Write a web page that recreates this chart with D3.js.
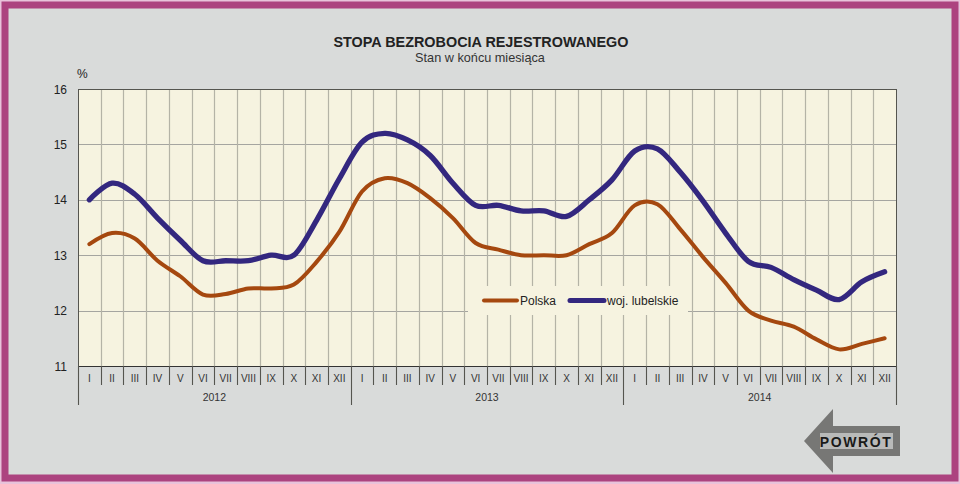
<!DOCTYPE html>
<html>
<head>
  <meta charset="utf-8">
  <title>Stopa bezrobocia rejestrowanego</title>
  <style>
    html, body { margin: 0; padding: 0; background: #e8c3da; }
    svg { display: block; font-family: "Liberation Sans", Arial, sans-serif; }
  </style>
</head>
<body>
  <svg width="960" height="484"></svg>

  <script src="https://d3js.org/d3.v7.min.js"></script>
  <script>

  var months = ["I","II","III","IV","V","VI","VII","VIII","IX","X","XI","XII"];
  var years = ["2012","2013","2014"];
  var yTicks = [11,12,13,14,15,16];

  var polska = [13.2,13.4,13.3,12.9,12.62,12.29,12.3,12.4,12.4,12.47,12.88,13.42,
                14.15,14.39,14.3,14.03,13.67,13.22,13.1,13.0,13.0,13.0,13.2,13.4,
                13.9,13.92,13.47,12.97,12.5,12.0,11.82,11.71,11.48,11.3,11.4,11.5];
  var lubelskie = [14.0,14.3,14.1,13.67,13.27,12.9,12.9,12.9,13.0,13.0,13.63,14.38,
                   15.04,15.2,15.08,14.8,14.3,13.9,13.9,13.8,13.8,13.7,14.0,14.36,
                   14.88,14.92,14.5,13.98,13.4,12.89,12.78,12.56,12.37,12.2,12.52,12.7];

  var svg = d3.select("svg"),
      plotLeft = 78, plotRight = 896, plotTop = 89, plotBottom = 366;

  // frame
  svg.append("rect").attr("x", 5).attr("y", 5).attr("width", 950).attr("height", 473)
      .attr("fill", "#d9dbda").attr("stroke", "#ac437f").attr("stroke-width", 7);

  var labels = [];
  years.forEach(function(yr) {
    months.forEach(function(m) { labels.push(yr + "-" + m); });
  });

  var x = d3.scaleBand().domain(labels).range([plotLeft, plotRight]);
  var y = d3.scaleLinear().domain([11, 16]).range([plotBottom, plotTop]);

  svg.append("rect").attr("x", plotLeft).attr("y", plotTop)
      .attr("width", plotRight - plotLeft).attr("height", plotBottom - plotTop)
      .attr("fill", "#f6f3e0");

  // grid
  svg.selectAll(".hgrid").data(yTicks.slice(1, -1)).enter().append("line")
      .attr("x1", plotLeft).attr("x2", plotRight)
      .attr("y1", function(d) { return Math.round(y(d)) + .5; })
      .attr("y2", function(d) { return Math.round(y(d)) + .5; })
      .attr("stroke", "#a5a5a0");

  svg.selectAll(".vgrid").data(labels.slice(1)).enter().append("line")
      .attr("x1", function(d) { return Math.round(x(d)) + .5; })
      .attr("x2", function(d) { return Math.round(x(d)) + .5; })
      .attr("y1", plotTop).attr("y2", plotBottom)
      .attr("stroke", "#b4b3a6").attr("stroke-width", 1.2);

  // legend sits on a patch of plot background
  svg.append("rect").attr("x", 468).attr("y", 286).attr("width", 220).attr("height", 29)
      .attr("fill", "#f6f3e0");

  var line = d3.line()
      .x(function(d, i) { return x(labels[i]) + x.bandwidth() / 2; })
      .y(function(d) { return y(d); })
      .curve(d3.curveCardinal.tension(0));

  svg.append("path").datum(polska).attr("d", line)
      .attr("fill", "none").attr("stroke", "#a5480f").attr("stroke-width", 4)
      .attr("stroke-linecap", "round");
  svg.append("path").datum(lubelskie).attr("d", line)
      .attr("fill", "none").attr("stroke", "#33277f").attr("stroke-width", 5.3)
      .attr("stroke-linecap", "round");

  // plot border
  svg.append("rect").attr("x", plotLeft + .5).attr("y", plotTop + .5)
      .attr("width", plotRight - plotLeft).attr("height", plotBottom - plotTop)
      .attr("fill", "none").attr("stroke", "#55554f").attr("stroke-width", 1);
  svg.append("line").attr("x1", plotLeft).attr("x2", plotRight + 1)
      .attr("y1", plotBottom + .5).attr("y2", plotBottom + .5)
      .attr("stroke", "#333").attr("stroke-width", 1.2);

  // y labels
  svg.selectAll(".ylab").data(yTicks).enter().append("text")
      .attr("x", 67).attr("y", function(d) { return y(d) + 4.5; })
      .attr("text-anchor", "end").attr("font-size", 12).attr("fill", "#222")
      .text(function(d) { return d; });

  svg.append("text").attr("x", 77).attr("y", 78).attr("font-size", 12).attr("fill", "#222").text("%");

  // month labels and separators
  svg.selectAll(".mlab").data(labels).enter().append("text")
      .attr("x", function(d) { return x(d) + x.bandwidth() / 2; })
      .attr("y", 382).attr("text-anchor", "middle").attr("font-size", 10).attr("fill", "#333")
      .text(function(d) { return d.split("-")[1]; });

  svg.selectAll(".mtick").data(labels.concat(["end"])).enter().append("line")
      .attr("x1", function(d) { return d === "end" ? plotRight + .5 : Math.round(x(d)) + .5; })
      .attr("x2", function(d) { return d === "end" ? plotRight + .5 : Math.round(x(d)) + .5; })
      .attr("y1", plotBottom)
      .attr("y2", function(d, i) { return i % 12 === 0 ? 405 : 385; })
      .attr("stroke", "#55554f").attr("stroke-width", 1.1);

  svg.selectAll(".ylabb").data(years).enter().append("text")
      .attr("x", function(d) { return (x(d + "-VI") + x(d + "-VII") + x.bandwidth()) / 2; })
      .attr("y", 401).attr("text-anchor", "middle").attr("font-size", 10.5).attr("fill", "#333")
      .text(function(d) { return d; });

  // titles
  svg.append("text").attr("x", 481).attr("y", 47).attr("text-anchor", "middle")
      .attr("font-size", 14.4).attr("font-weight", "bold").attr("fill", "#222")
      .text("STOPA BEZROBOCIA REJESTROWANEGO");
  svg.append("text").attr("x", 480).attr("y", 62).attr("text-anchor", "middle")
      .attr("font-size", 12.7).attr("fill", "#333")
      .text("Stan w końcu miesiąca");

  // legend
  svg.append("line").attr("x1", 484).attr("x2", 517).attr("y1", 300.5).attr("y2", 300.5)
      .attr("stroke", "#a5480f").attr("stroke-width", 4).attr("stroke-linecap", "round");
  svg.append("text").attr("x", 520).attr("y", 305).attr("font-size", 12).attr("fill", "#222").text("Polska");
  svg.append("line").attr("x1", 570).attr("x2", 604).attr("y1", 300.5).attr("y2", 300.5)
      .attr("stroke", "#33277f").attr("stroke-width", 5).attr("stroke-linecap", "round");
  svg.append("text").attr("x", 607).attr("y", 305).attr("font-size", 12).attr("fill", "#222").text("woj. lubelskie");

  // back button
  svg.append("path")
      .attr("d", "M804,441 L833,409 L833,426 L900,426 L900,456 L833,456 L833,473 Z")
      .attr("fill", "#777775");
  svg.append("rect").attr("x", 820).attr("y", 433).attr("width", 73).attr("height", 16).attr("fill", "#b9bab9");
  svg.append("text").attr("x", 856).attr("y", 447).attr("text-anchor", "middle")
      .attr("font-size", 14).attr("font-weight", "bold").attr("letter-spacing", 1.6).attr("fill", "#1a1a1a")
      .text("POWRÓT");

  </script>
</body>
</html>
